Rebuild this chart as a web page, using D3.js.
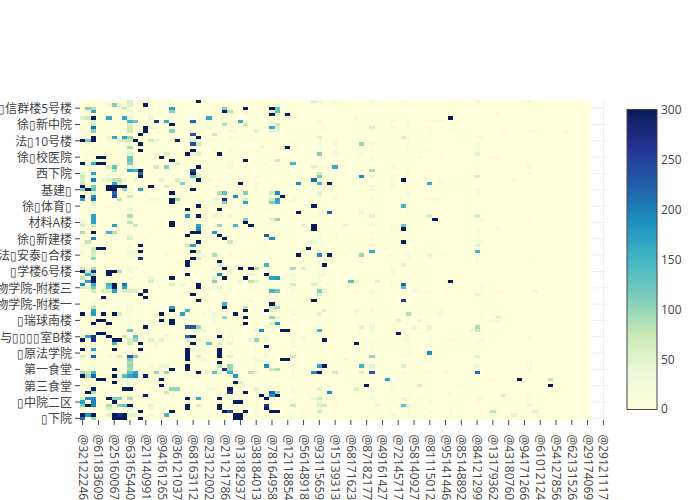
<!DOCTYPE html>
<html><head><meta charset="utf-8">
<script src="https://cdn.jsdelivr.net/npm/d3@7"></script>
<style>
html,body{margin:0;padding:0;background:#fff;overflow:hidden}
text{font-family:"Open Sans","Noto Sans CJK SC",sans-serif;font-size:12px;fill:#444}
</style></head><body>
<svg id="c" width="700" height="500"></svg>
<script>
const rowCount = 98, colCount = 97, axisColCount = 100;
const yLabels = ["▯信群楼5号楼","徐▯新中院","法▯10号楼","徐▯校医院","西下院","基建▯","徐▯体育▯","材料A楼","徐▯新建楼","法▯安泰▯合楼","▯学楼6号楼","物学院-附楼三","物学院-附楼一","▯瑞球南楼","与▯▯▯▯室B楼","▯原法学院","第一食堂","第三食堂","▯中院二区","▯下院"];
const xLabels = ["@32122246","@61183609","@25160067","@63165440","@21140991","@94161265","@36121037","@68163112","@23122002","@21121786","@13182937","@38184013","@78164958","@12118854","@56148918","@93115659","@15139313","@68171623","@87182177","@49161427","@72145717","@58140927","@81115012","@95141446","@85148892","@84121299","@13179362","@43180760","@94171266","@61012124","@54127856","@62131526","@29174069","@29121117"];
const colorStops = [[0,"rgb(255,255,217)"],[37.5,"rgb(237,248,217)"],[75,"rgb(199,233,180)"],[112.5,"rgb(127,205,187)"],[150,"rgb(65,182,196)"],[187.5,"rgb(29,145,192)"],[225,"rgb(34,94,168)"],[262.5,"rgb(37,52,148)"],[300,"rgb(8,29,88)"]];
const colorTicks = [0,50,100,150,200,250,300];
// faint cells, [row from top, column, value]
const readingsFaint = [
[1,13,12],[2,13,10],[3,13,12],[4,9,20],[4,13,15],[4,14,10],[7,1,12],[8,0,12],[9,0,10],[10,1,10],[11,0,15],[13,0,12],[13,1,10],[14,0,10],[14,2,10],[15,9,20],[16,1,10],[16,2,25],[20,10,15],[22,5,15],[22,6,25],[25,3,15],[25,4,15],[29,12,12],[30,14,15],[31,9,15],[32,5,12],[33,2,15],[34,2,20],[34,9,15],[36,9,20],[39,8,15],[40,13,10],[42,12,12],[44,9,15],[45,9,15],[47,0,20],[47,16,15],[48,9,15],[48,10,15],[49,2,15],
[51,1,12],[54,1,12],[57,9,15],[59,9,20],[61,2,15],[62,2,20],[62,9,15],[63,9,25],[64,9,20],[64,14,12],[65,9,15],[66,2,20],[66,9,12],[68,9,15],[69,2,15],[69,14,15],[70,2,20],[71,2,15],[73,14,15],[74,14,25],[75,2,20],[75,9,15],[75,14,12],[76,9,20],[77,9,25],[79,2,20],[80,2,15],[80,13,15],[81,13,20],[82,2,20],[85,9,20],[86,12,12],[87,2,15],[87,9,15],[89,0,15],[90,2,15],[90,9,15],[92,9,20],[92,14,15],[94,2,20],[95,2,15],[95,9,20],[95,10,15],
[6,25,10],[6,28,10],[6,31,10],[7,23,12],[7,24,10],[7,28,12],[8,23,18],[8,25,14],[8,29,12],[8,31,10],[8,46,12],[8,50,12],[9,29,20],[9,45,10],[9,46,10],[9,55,15],[9,52,10],[11,29,12],[11,32,12],[11,33,10],[12,24,10],[12,25,12],[12,30,10],[12,32,18],[12,33,10],[12,40,8],[12,45,15],[12,48,15],[13,26,10],[13,30,10],[13,40,12],[15,25,15],[15,28,15],[15,33,10],[15,40,10],[15,45,15],[15,48,15],[15,52,15],[15,55,20],
[17,25,10],[17,29,12],[17,31,10],[17,43,12],[17,55,15],[18,28,15],[18,40,15],[18,52,15],[18,55,20],[19,28,20],[19,35,10],[19,54,12],[21,30,12],[21,33,15],[21,35,12],[22,23,20],[22,25,15],[22,28,15],[23,28,18],[23,33,12],[23,40,12],[24,24,15],[24,26,15],[26,25,15],[26,28,12],[26,33,15],[26,40,15],[26,45,15],[26,53,15],[26,55,20],[27,24,12],[27,55,22],[27,56,12],[28,45,25],[29,45,20],[29,48,15],[29,55,15],[30,23,12],[30,28,15],[30,29,10],[30,45,15],[30,48,15],[30,55,15],[31,25,15],[33,35,12],[33,45,15],[33,53,15],[34,45,20],[34,55,15],[35,26,15],[35,45,20],[36,24,8],[37,45,15],[38,45,15],[38,55,15],[40,45,20],[40,55,15],[41,43,12],[41,48,15],[42,45,25],[42,48,12],[42,55,15],[43,33,12],[43,45,15],[44,28,15],[44,35,15],[45,51,10],[46,46,15],[46,45,25],[47,33,12],[47,28,15],[47,48,15],[47,50,15],
[50,45,12],[52,45,12],[52,53,15],[53,25,15],[53,33,20],[53,40,25],[53,45,20],[54,40,15],[54,33,12],[54,45,20],[55,40,15],[55,28,15],[56,25,15],[56,28,12],[56,30,12],[57,23,12],[57,24,15],[57,25,20],[57,28,15],[57,33,12],[57,40,15],[57,45,25],[58,24,15],[58,25,15],[58,26,15],[58,28,15],[58,32,12],[58,40,15],[58,42,12],[58,52,15],[58,55,20],[59,55,15],[60,45,12],[63,33,15],[64,24,15],[64,28,12],[64,33,15],[64,40,15],[64,45,15],[64,55,20],[65,23,20],[65,33,12],[65,40,15],[65,52,15],[66,23,12],[66,25,15],[66,28,12],[67,25,20],[67,33,12],[67,40,15],[67,52,12],[68,25,15],[68,44,12],[68,55,15],[69,28,12],[69,33,15],[70,28,15],[70,55,30],[71,25,12],[71,31,10],[71,45,12],[71,53,15],
[72,28,15],[72,32,20],[72,33,25],[72,35,25],[72,40,15],[72,42,25],[73,24,15],[73,26,15],[73,28,15],[73,40,20],[73,42,15],[74,33,15],[74,40,15],[74,45,15],[74,55,15],[75,23,12],[75,33,12],[75,40,15],[75,52,15],[76,23,25],[76,25,15],[76,33,12],[76,35,20],[76,45,15],[76,55,15],[77,24,15],[77,28,15],[77,35,25],[77,40,15],[77,45,12],[78,33,15],[79,22,20],[79,28,12],[79,40,15],[80,25,15],[80,33,12],[80,45,15],[80,52,15],[81,30,12],[81,33,15],[81,40,15],[81,52,15],[82,25,15],[82,33,12],[82,40,15],[82,45,20],[83,40,15],[84,21,10],[84,30,12],[84,36,15],[84,37,15],[84,40,15],[84,45,15],[88,21,12],[88,25,25],[88,28,12],[88,40,15],[88,55,20],[89,25,15],[89,33,15],[89,40,12],[89,55,12],[90,26,15],[90,45,25],[90,55,15],[91,31,15],[91,40,15],[91,46,25],[91,48,15],[91,55,25],[92,28,15],[92,31,15],[92,33,15],[92,40,15],[92,48,15],[93,31,15],[93,48,15],[94,28,12],[94,33,12],[94,40,15],[94,45,25],[95,33,20],[95,40,12],[95,48,15],[96,24,15],[96,26,12],[96,33,15],[96,40,20],[96,42,15],[97,33,12],[97,40,12],
[1,71,8],[2,75,12],[2,79,10],[3,61,12],[4,85,12],[6,62,12],[6,66,12],[6,67,15],[6,69,12],[7,62,15],[8,59,15],[8,62,12],[8,66,15],[8,68,12],[8,70,15],[9,66,12],[9,71,10],[9,80,15],[9,85,20],[9,86,15],[10,62,15],[11,62,18],[11,75,12],[11,76,15],[12,59,10],[12,62,15],[12,66,12],[12,69,12],[13,59,12],[13,62,15],[13,75,20],[14,62,12],[14,85,12],[15,59,12],[15,62,12],[15,66,12],[15,75,15],[16,68,12],[17,60,12],[17,64,18],[17,78,15],[17,79,15],[18,62,15],[19,85,18],[20,59,15],[20,68,12],[20,85,20],[21,62,12],[21,66,15],[22,62,15],[22,63,12],[22,75,20],[22,85,20],[23,59,20],[23,66,12],[23,69,15],[23,70,12],[24,59,15],[24,62,12],[24,68,12],[24,82,20],[25,59,20],[25,62,15],[25,68,15],[25,85,15],[26,59,20],[26,64,12],[26,71,12],[27,62,12],[28,62,25],[28,75,15],[29,62,15],[29,76,12],[30,59,12],[30,66,15],[30,67,20],[31,75,12],[33,62,15],[33,85,12],[34,62,12],[36,62,10],[36,85,15],[38,59,12],[38,60,12],[39,59,15],[39,60,15],[39,62,12],[39,75,15],[40,59,12],[40,62,15],[40,75,15],[40,85,15],[41,62,12],[41,75,12],[42,59,12],[43,62,15],[43,63,12],[43,75,20],[43,76,20],[44,63,12],[45,57,15],[45,58,15],[46,62,12],[47,59,12],[47,61,15],[47,68,12],[47,69,12],[48,62,15],[48,75,15],[48,85,12],
[47,75,20],[48,66,12],[49,75,15],[50,85,12],[51,59,15],[52,59,15],[53,59,15],[53,61,15],[54,62,15],[55,59,12],[55,62,12],[55,65,12],[55,69,15],[55,76,12],[55,77,15],[56,59,15],[56,66,12],[56,76,15],[57,76,15],[58,59,12],[58,61,12],[58,64,15],[58,66,15],[58,69,12],[58,76,12],[58,78,12],[58,79,15],[60,66,8],[64,59,12],[64,68,20],[65,60,12],[65,61,12],[65,76,12],[65,78,12],[65,79,15],[66,62,12],[66,70,10],[66,76,15],[67,72,10],[67,78,20],[67,79,20],[68,62,12],[68,70,12],[69,64,12],[70,59,12],[70,66,25],[70,76,15],[71,62,12],[71,64,15],[71,78,12],[71,79,12],[72,60,12],[72,61,15],[72,62,15],[72,68,15],[72,85,20],[73,61,20],[73,62,20],[73,66,12],[73,69,12],[73,70,12],[73,75,12],[74,62,15],[74,66,12],[74,72,12],[74,75,15],[75,61,10],[76,59,12],[76,62,15],[76,79,12],[77,61,15],[77,62,15],[77,63,15],[78,61,15],[78,62,15],[78,68,12],[78,76,12],[79,59,15],[79,68,12],[79,85,15],[80,66,15],[80,85,20],[81,62,15],[81,85,20],[82,61,12],[82,75,12],[82,85,15],[83,60,12],[83,62,15],[83,66,18],[83,69,20],[84,65,8],[85,60,15],[85,64,12],[85,78,12],[85,79,12],[86,59,12],[87,59,15],[87,72,12],[88,59,20],[89,59,12],[89,70,15],[89,85,20],[90,59,12],[90,70,15],[90,85,25],[91,62,15],[91,64,12],[91,75,25],[91,76,15],[91,85,12],[92,59,12],[92,66,15],[92,75,12],[94,60,12],[94,62,20],[94,64,12],[94,70,12],[94,76,15],[95,62,15],[95,66,12],[95,70,15],[95,76,12],[95,79,15],[96,59,20],[96,62,15],[96,65,15],[96,70,12],[96,76,15],[96,78,15],[97,62,15],[97,76,12],[97,66,12]
];
// clearly coloured cells, [row from top, column, value]
const readingsLeft = [
[0,9,60],[0,22,300],[1,5,25],[1,6,110],[1,7,50],[1,9,60],[1,12,300],[2,1,110],[2,2,85],[2,8,70],[2,17,170],[3,2,165],[3,9,40],[3,17,110],
[5,0,55],[5,1,70],[5,2,300],[5,5,165],[5,8,165],[5,9,40],[5,13,40],[6,2,60],[6,9,150],[6,10,120],[6,14,270],[6,16,160],[6,21,220],[7,2,70],[7,9,50],[7,17,300],
[8,2,220],[8,9,65],[8,12,300],[8,13,50],[8,14,30],[9,2,110],[9,9,70],[9,12,300],[9,17,110],[10,11,300],[10,21,230],[11,5,40],[11,6,165],[11,8,170],[11,9,100],[11,2,300],
[12,0,300],[12,1,120],[12,2,300],[12,5,25],[12,7,50],[12,8,70],[12,9,70],[12,10,300],[12,13,70],[12,14,40],[12,18,300],[12,21,60],[12,22,35],[13,11,300],[13,21,240],[13,22,70],[13,9,20],
[14,9,90],[15,11,300],[15,21,300],[16,9,40],[16,16,60],[16,20,300],[16,22,50],[17,3,300],[17,4,300],[17,15,300],[17,9,120],[18,9,130],[18,17,300],[18,2,20],
[19,0,300],[19,2,160],[19,3,300],[19,4,300],[19,9,110],[19,18,60],[20,5,60],[20,6,130],[20,9,40],[20,14,70],[20,16,110],[20,22,300],[21,6,80],[21,9,170],[21,10,150],[21,11,300],[21,21,250],[21,20,40],
[22,0,50],[22,2,170],[22,11,220],[22,21,300],[22,22,30],[23,0,70],[23,11,300],[23,2,50],[23,21,130],[23,22,60],[23,5,20],[24,0,60],[24,2,200],[24,4,40],[24,5,50],[24,6,80],[24,7,80],[24,8,40],[24,10,40],[24,15,50],[24,18,60],[24,22,300],
[25,0,70],[25,2,30],[25,6,170],[25,7,60],[25,19,110],[26,0,300],[26,2,110],[26,5,300],[26,6,300],[26,7,300],[26,8,300],[26,13,300],[26,16,60],[27,0,110],[27,1,300],[27,2,130],[27,5,300],[27,6,300],[27,8,100],[27,11,170],[27,21,300],[27,9,30],
[28,6,220],[28,17,300],[28,2,60],[28,9,20],[29,0,300],[29,2,190],[29,6,240],[29,9,70],[30,0,170],[30,2,210],[30,7,80],[30,13,30],[30,17,300],[30,18,100],[31,2,60],[31,17,300],[32,2,40],[33,9,40],[33,20,300],
[35,2,170],[35,9,90],[35,20,180],[35,22,100],[36,2,170],[36,0,20],[37,0,40],[37,2,170],[37,9,80],[37,17,300],[38,17,300],[38,0,60],[38,2,70],[38,6,170],[38,10,70],[38,22,170],
[40,0,90],[40,2,300],[40,5,150],[40,6,90],[40,21,300],[40,22,300],[41,9,40],[41,20,300],[42,2,200],[42,9,60],[43,1,80],[44,0,30],[44,11,300],[44,21,170],[44,20,70],[44,22,20],[45,3,300],[45,4,300],[45,2,70],
[46,0,30],[46,2,70],[46,11,300],[46,21,300],[46,9,30],[46,10,30],[47,2,60],[47,9,30],[47,10,30],[48,2,100],[48,11,270],[49,20,300],[50,20,300],[51,0,70],[51,2,90],[51,9,30],[51,10,25],
[52,0,300],[52,1,70],[52,2,270],[52,5,300],[52,6,300],[52,7,90],[52,9,30],[53,1,160],[53,2,100],[53,5,300],[53,20,300],[54,0,80],[54,2,300],[54,17,300],[54,9,20],[54,13,40],[55,1,170],[55,2,300],[55,13,60],
[56,0,190],[56,2,160],[56,5,150],[56,6,300],[56,8,210],[56,17,60],[56,19,40],[57,0,60],[57,1,50],[57,2,120],[57,5,130],[57,6,300],[57,8,170],[58,2,70],[58,4,60],[58,5,60],[58,6,170],[58,7,30],[58,8,60],[58,9,60],[58,10,60],[58,12,300],
[59,21,300],[59,11,300],[60,4,300],[60,12,300],[61,22,300],[63,2,80],[63,9,30],[63,17,170],[64,2,170],[64,17,300],[64,20,150],[65,0,300],[65,2,180],[65,4,300],[65,6,300],[65,7,60],[65,15,300],[65,19,170],
[67,3,300],[67,4,300],[67,15,300],[67,17,300],[68,2,300],[68,5,300],[68,17,300],[69,12,300],[69,20,230],[69,21,230],[69,22,100],[70,9,120],[71,3,300],[71,4,300],
[72,1,170],[72,2,270],[72,5,300],[72,8,70],[72,10,130],[72,20,220],[72,21,300],[72,16,40],[73,0,300],[73,2,270],[73,6,300],[73,7,300],[73,10,100],[73,9,60],[73,13,60],[73,15,50],[73,20,60],[73,22,50],
[74,0,20],[74,2,40],[74,6,150],[74,9,70],[74,11,300],[74,21,300],[76,0,300],[76,2,170],[76,6,300],[76,11,300],[76,20,300],[77,20,300],[77,2,30],[78,0,60],[78,2,220],[78,5,20],[78,7,60],[78,9,230],[78,10,110],[78,20,300],
[79,9,110],[79,20,300],[80,9,90],[81,9,100],[81,15,40],[81,16,40],[81,20,300],[81,2,30],[82,6,300],[82,9,90],[82,17,300],[82,20,300],[83,0,90],[83,1,70],[83,2,150],[83,9,130],[83,10,170],[83,14,100],[83,16,100],
[84,0,300],[84,1,90],[84,2,220],[84,6,300],[84,8,140],[84,9,170],[84,10,190],[84,12,300],[84,22,20],[85,3,300],[85,4,300],[85,15,300],[86,2,30],[86,6,300],[86,9,30],[86,10,40],[87,15,300],[88,2,300],[88,8,300],[88,9,300],[88,17,100],[88,18,100],
[89,1,300],[89,2,90],[89,16,70],[90,12,300],[91,0,60],[91,1,190],[91,2,190],[91,5,300],[91,6,110],[91,7,110],[91,9,90],[91,15,20],[91,20,300],[91,22,140],[92,0,170],[92,2,200],[92,6,300],[92,1,20],
[93,0,110],[93,1,300],[93,2,200],[93,5,90],[93,7,110],[93,8,130],[93,9,300],[93,13,50],[93,20,300],[94,5,60],[94,6,30],[94,9,40],[94,13,30],[94,15,20],[94,20,300],[95,11,300],[95,17,300],
[96,0,300],[96,1,180],[96,2,300],[96,5,50],[96,6,300],[96,7,270],[96,8,300],[96,9,50],[96,10,50],[96,16,150],[96,13,20],[96,18,20],[97,0,220],[97,2,100],[97,6,300],[97,7,300],[97,8,300],[97,11,300]
];
const readingsMiddle = [
[0,44,50],[0,45,30],[0,48,20],[0,55,25],[1,37,40],[1,36,15],[2,27,110],[2,31,300],[2,36,300],[2,37,120],[3,27,300],[3,28,90],[3,31,40],[3,36,50],[3,37,130],[3,25,15],[4,36,300],[4,37,50],[4,39,300],
[5,24,165],[5,33,15],[5,52,30],[6,30,160],[6,45,25],[7,27,90],[7,31,70],[7,36,15],[7,37,70],[8,36,160],[8,37,50],[8,55,60],[8,24,30],[9,28,25],[9,33,50],[9,36,40],[9,37,40],[9,42,15],[10,25,70],[11,22,300],[11,45,50],[11,28,15],
[13,45,25],[13,53,100],[13,55,20],[13,48,20],[14,34,40],[14,38,60],[14,39,300],[16,21,40],[16,26,300],[16,45,110],[16,48,25],[16,53,25],[18,31,300],[18,36,20],[18,37,70],[19,40,150],[20,44,50],[20,48,160],[20,45,15],[20,28,30],[21,55,90],[21,25,15],
[22,45,70],[23,45,120],[23,53,190],[23,55,40],[24,44,220],[24,23,30],[25,30,300],[25,41,190],[25,45,150],[25,47,300],[25,33,25],[27,33,20],[28,26,90],[28,27,130],[28,31,110],[28,36,70],[28,37,190],[28,45,50],[29,29,190],[29,38,300],
[30,27,270],[30,31,60],[30,36,70],[30,37,170],[30,40,30],[30,25,40],[31,27,110],[31,31,170],[31,36,110],[31,37,160],[32,22,300],[32,44,300],[32,25,20],[33,26,300],[34,41,300],[34,47,230],[34,53,40],[35,22,300],[35,25,40],[35,28,30],[35,44,20],[35,55,50],
[36,31,110],[36,36,50],[36,37,100],[37,31,300],[38,23,40],[38,26,100],[38,29,150],[38,32,300],[38,33,15],[38,42,50],[38,44,300],[38,50,40],[39,22,190],[39,23,20],[39,44,300],[40,25,180],[41,26,300],[41,35,230],[41,45,30],[42,25,40],[42,27,300],[42,36,190],
[43,22,300],[43,28,70],[43,44,40],[44,55,30],[45,43,300],[46,22,70],[46,55,160],[47,23,30],[47,25,90],[47,41,300],[47,45,190],[47,47,300],[47,53,100],[48,21,300],[48,22,60],
[49,26,300],[50,26,60],[50,35,150],[50,46,300],[51,25,40],[51,27,300],[51,30,300],[51,32,300],[51,33,90],[51,40,90],[51,42,60],[52,28,50],[53,26,200],[53,32,40],[53,35,300],[53,46,30],
[54,25,50],[54,27,300],[54,31,300],[54,36,170],[54,37,180],[55,25,110],[55,30,40],[55,32,80],[55,33,50],[55,51,130],[55,52,50],[55,56,50],[55,45,30],[56,22,300],[56,40,60],[56,44,60],[57,22,300],[57,26,50],
[58,36,150],[58,37,120],[58,45,110],[58,46,50],[59,21,300],[59,45,60],[61,22,300],[61,32,30],[61,44,300],[62,27,150],[62,36,300],[63,27,300],[63,31,80],[63,36,70],[63,37,90],[64,31,300],[64,35,300],[64,36,50],[64,37,40],[64,46,50],[64,52,40],
[65,29,300],[65,25,40],[65,45,50],[66,27,100],[66,31,300],[66,36,100],[66,37,40],[68,31,300],[68,36,60],[68,37,180],[69,21,230],[69,22,100],[69,35,40],[69,53,50],[69,55,40],
[70,22,40],[70,23,40],[70,33,40],[70,34,190],[70,38,300],[70,39,300],[70,45,150],[72,21,300],[72,26,300],[73,32,40],[73,33,100],[73,46,300],[73,35,30],[74,21,300],[74,24,130],[74,26,50],[74,28,40],[74,52,300],[75,35,300],
[76,21,40],[76,26,300],[77,26,300],[78,22,60],[78,26,300],[78,28,50],[78,40,70],[78,55,100],[78,35,30],[79,23,40],[79,33,30],[79,34,30],[79,38,300],[79,39,300],[79,50,30],[80,26,300],[80,35,40],
[81,26,80],[81,28,100],[81,35,190],[81,45,170],[81,46,300],[81,53,150],[81,55,50],[82,27,270],[82,28,100],[82,36,70],[82,37,90],[82,55,30],[83,22,300],[83,25,130],[83,26,50],[83,28,150],[83,32,80],[83,33,40],[83,44,190],[83,45,300],[83,48,70],[83,53,60],[83,55,230],
[84,29,180],[84,28,30],[85,58,170],[86,29,300],[86,30,60],[87,54,300],[88,28,300],[88,45,50],[88,52,60],[88,33,50],[88,24,20],[89,28,270],[89,31,300],[89,36,220],[89,37,100],[89,47,190],[90,34,300],[90,36,190],[90,37,300],
[91,22,160],[91,26,300],[91,28,40],[91,30,30],[91,35,300],[91,44,40],[91,45,70],[92,29,300],[92,30,300],[92,45,40],[93,22,60],[93,26,300],[93,35,270],[93,40,70],[93,45,60],[93,46,70],[93,56,40],[93,33,30],[94,26,300],[94,35,300],
[95,27,300],[95,28,240],[95,31,300],[95,36,300],[95,37,300],[95,45,70],[96,29,300],[96,30,300],[97,29,300],[97,30,300]
];
const readingsRight = [
[0,61,20],[0,75,30],[0,85,25],[4,79,20],[5,70,300],[6,59,20],[6,68,25],[9,92,20],[11,61,60],[14,75,20],[16,75,50],[23,75,60],[24,61,300],[25,66,160],[27,75,25],[32,61,150],[35,66,60],[35,75,60],[36,67,300],[36,76,25],[38,61,130],[39,61,300],[39,79,20],[43,61,300],[44,75,50],[46,75,150],[47,66,40],[47,62,25],
[50,61,50],[55,70,300],[56,61,220],[57,61,140],[58,63,30],[58,86,30],[59,75,50],[61,61,260],[65,62,90],[65,68,25],[65,64,20],[66,79,50],[67,60,50],[67,64,40],[69,63,40],[69,66,50],[69,75,90],[70,74,40],[70,75,70],[71,60,300],[73,76,25],[77,66,190],[78,75,50],[81,61,60],[81,75,40],[81,85,25],[83,75,210],[83,61,25],
[85,58,170],[85,83,300],[85,89,80],[87,64,60],[87,89,300],[90,80,60],[91,61,40],[93,61,130],[93,62,40],[93,85,40],[95,78,80],[95,86,50],[96,82,50]
];

const margin = {left:80, right:606, top:100, bottom:420};
const svg = d3.select("#c");

const x = d3.scaleBand().domain(d3.range(axisColCount)).range([margin.left, margin.right]);
const y = d3.scaleBand().domain(d3.range(rowCount)).range([margin.top, margin.bottom]);
const color = d3.scaleLinear().domain(colorStops.map(d=>d[0])).range(colorStops.map(d=>d[1])).interpolate(d3.interpolateRgb).clamp(true);

const z = d3.range(rowCount).map(()=>new Array(colCount).fill(0));
[...readingsFaint,...readingsLeft,...readingsMiddle,...readingsRight].forEach(([r,c,v])=>{z[r][c]=v;});
const cells = z.flatMap((row,r)=>row.map((v,c)=>({r,c,v})));

const yTicks = yLabels.map((_,i)=>rowCount-1-5*(yLabels.length-1-i));
const xTicks = xLabels.map((_,i)=>i*3);

const gridG = svg.append("g");
gridG.append("g").selectAll("line").data(yTicks).join("line")
  .attr("x1",margin.left).attr("x2",margin.right)
  .attr("y1",d=>y(d)+y.bandwidth()/2).attr("y2",d=>y(d)+y.bandwidth()/2)
  .attr("stroke","#eee");
gridG.append("g").selectAll("line").data(xTicks).join("line")
  .attr("y1",margin.top).attr("y2",margin.bottom)
  .attr("x1",d=>x(d)+x.bandwidth()/2).attr("x2",d=>x(d)+x.bandwidth()/2)
  .attr("stroke","#eee");

svg.append("g").attr("shape-rendering","crispEdges").selectAll("rect").data(cells).join("rect")
  .attr("x",d=>x(d.c)).attr("y",d=>y(d.r))
  .attr("width",x.bandwidth()+.3).attr("height",y.bandwidth()+.3)
  .attr("fill",d=>color(d.v));

const yAxis = d3.axisLeft(y).tickValues(yTicks).tickSize(5).tickPadding(3).tickFormat((d,i)=>yLabels[i]);
const gy = svg.append("g").attr("transform",`translate(${margin.left},0)`).call(yAxis);
gy.select(".domain").remove();
gy.selectAll("line").attr("stroke","#444");
gy.selectAll("text").attr("fill","#444").attr("dy","0.4em");

const xAxis = d3.axisBottom(x).tickValues(xTicks).tickSize(5).tickFormat((d,i)=>xLabels[i]);
const gx = svg.append("g").attr("transform",`translate(0,${margin.bottom})`).call(xAxis);
gx.select(".domain").remove();
gx.selectAll("line").attr("stroke","#444");
gx.selectAll("text").attr("text-anchor","start").attr("dy",null).attr("y",null).attr("x",null)
  .attr("transform","translate(-4,14.5) rotate(90)").attr("fill","#444");

const cbX = 627, cbW = 30;
const cbScale = d3.scaleLinear().domain([0,300]).range([409,110]);
const levels = d3.range(0,300,1);
svg.append("g").attr("shape-rendering","crispEdges").selectAll("rect").data(levels).join("rect")
  .attr("x",cbX).attr("width",cbW)
  .attr("y",d=>cbScale(d+1)).attr("height",d=>cbScale(d)-cbScale(d+1)+.5)
  .attr("fill",d=>color(d+.5));
svg.append("rect").attr("x",cbX).attr("y",109.5).attr("width",cbW).attr("height",300)
  .attr("fill","none").attr("stroke","#444").attr("stroke-width",1);
const cbAxis = d3.axisRight(cbScale).tickValues(colorTicks).tickSize(0).tickPadding(4).tickFormat(d3.format("d"));
const gc = svg.append("g").attr("transform",`translate(${cbX+cbW},0)`).call(cbAxis);
gc.select(".domain").remove();
gc.selectAll("text").attr("fill","#444");
</script>
</body></html>
